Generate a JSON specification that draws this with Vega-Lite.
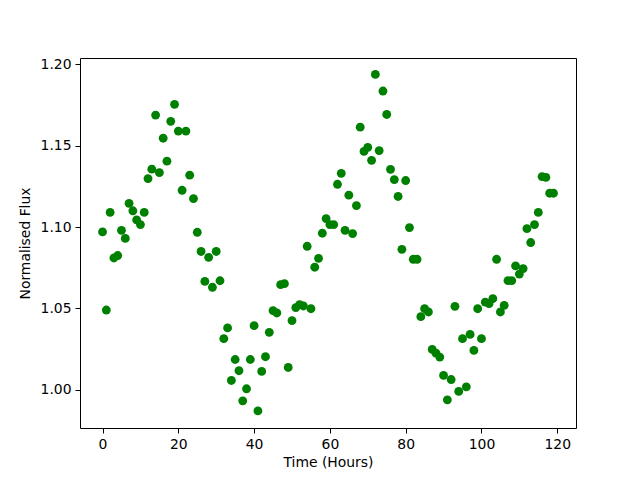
{
  "$schema": "https://vega.github.io/schema/vega-lite/v6.json",
  "width": 496,
  "height": 370,
  "autosize": {"type": "none"},
  "padding": {"left": 80, "top": 58, "right": 64, "bottom": 52},
  "background": "white",
  "config": {
    "view": {"stroke": "black", "strokeWidth": 1},
    "font": "DejaVu Sans",
    "axis": {
      "domain": false,
      "grid": false,
      "tickColor": "black",
      "tickSize": 5,
      "tickWidth": 1,
      "labelColor": "black",
      "labelFont": "DejaVu Sans",
      "labelFontSize": 13.9,
      "labelPadding": 4,
      "titleFont": "DejaVu Sans",
      "titleFontSize": 13.9,
      "titleFontWeight": "normal",
      "titleColor": "black"
    }
  },
  "data": {
    "values": [
      {"t": 0, "f": 1.097}, {"t": 1, "f": 1.049}, {"t": 2, "f": 1.109}, {"t": 3, "f": 1.081},
      {"t": 4, "f": 1.0825}, {"t": 5, "f": 1.098}, {"t": 6, "f": 1.093}, {"t": 7, "f": 1.1146},
      {"t": 8, "f": 1.110}, {"t": 9, "f": 1.1044}, {"t": 10, "f": 1.1015}, {"t": 11, "f": 1.109},
      {"t": 12, "f": 1.1298}, {"t": 13, "f": 1.1356}, {"t": 14, "f": 1.1688}, {"t": 15, "f": 1.1335},
      {"t": 16, "f": 1.1546}, {"t": 17, "f": 1.1405}, {"t": 18, "f": 1.165}, {"t": 19, "f": 1.1754},
      {"t": 20, "f": 1.159}, {"t": 21, "f": 1.1226}, {"t": 22, "f": 1.159}, {"t": 23, "f": 1.1319},
      {"t": 24, "f": 1.1175}, {"t": 25, "f": 1.0968}, {"t": 26, "f": 1.085}, {"t": 27, "f": 1.0666},
      {"t": 28, "f": 1.0814}, {"t": 29, "f": 1.063}, {"t": 30, "f": 1.085}, {"t": 31, "f": 1.067},
      {"t": 32, "f": 1.0314}, {"t": 33, "f": 1.038}, {"t": 34, "f": 1.0057}, {"t": 35, "f": 1.0186},
      {"t": 36, "f": 1.0117}, {"t": 37, "f": 0.9932}, {"t": 38, "f": 1.0006}, {"t": 39, "f": 1.0186},
      {"t": 40, "f": 1.0394}, {"t": 41, "f": 0.987}, {"t": 42, "f": 1.0113}, {"t": 43, "f": 1.0203},
      {"t": 44, "f": 1.0353}, {"t": 45, "f": 1.0486}, {"t": 46, "f": 1.0472}, {"t": 47, "f": 1.0646},
      {"t": 48, "f": 1.0652}, {"t": 49, "f": 1.0137}, {"t": 50, "f": 1.0425}, {"t": 51, "f": 1.0505},
      {"t": 52, "f": 1.0523}, {"t": 53, "f": 1.0515}, {"t": 54, "f": 1.0882}, {"t": 55, "f": 1.0498},
      {"t": 56, "f": 1.0753}, {"t": 57, "f": 1.0808}, {"t": 58, "f": 1.0962}, {"t": 59, "f": 1.1052},
      {"t": 60, "f": 1.1015}, {"t": 61, "f": 1.1015}, {"t": 62, "f": 1.1263}, {"t": 63, "f": 1.133},
      {"t": 64, "f": 1.098}, {"t": 65, "f": 1.1196}, {"t": 66, "f": 1.096}, {"t": 67, "f": 1.1132},
      {"t": 68, "f": 1.1614}, {"t": 69, "f": 1.1465}, {"t": 70, "f": 1.149}, {"t": 71, "f": 1.141},
      {"t": 72, "f": 1.1938}, {"t": 73, "f": 1.147}, {"t": 74, "f": 1.1836}, {"t": 75, "f": 1.1692},
      {"t": 76, "f": 1.1354}, {"t": 77, "f": 1.1292}, {"t": 78, "f": 1.1188}, {"t": 79, "f": 1.0863},
      {"t": 80, "f": 1.1286}, {"t": 81, "f": 1.0997}, {"t": 82, "f": 1.0802}, {"t": 83, "f": 1.0802},
      {"t": 84, "f": 1.0449}, {"t": 85, "f": 1.0498}, {"t": 86, "f": 1.0478}, {"t": 87, "f": 1.0248},
      {"t": 88, "f": 1.0225}, {"t": 89, "f": 1.0201}, {"t": 90, "f": 1.0088}, {"t": 91, "f": 0.9938},
      {"t": 92, "f": 1.0063}, {"t": 93, "f": 1.0513}, {"t": 94, "f": 0.999}, {"t": 95, "f": 1.0314},
      {"t": 96, "f": 1.0018}, {"t": 97, "f": 1.034}, {"t": 98, "f": 1.0242}, {"t": 99, "f": 1.0498},
      {"t": 100, "f": 1.0314}, {"t": 101, "f": 1.0539}, {"t": 102, "f": 1.0529}, {"t": 103, "f": 1.056},
      {"t": 104, "f": 1.0802}, {"t": 105, "f": 1.0478}, {"t": 106, "f": 1.0519}, {"t": 107, "f": 1.0671},
      {"t": 108, "f": 1.0671}, {"t": 109, "f": 1.0761}, {"t": 110, "f": 1.0711}, {"t": 111, "f": 1.0745},
      {"t": 112, "f": 1.099}, {"t": 113, "f": 1.0905}, {"t": 114, "f": 1.1015}, {"t": 115, "f": 1.109},
      {"t": 116, "f": 1.131}, {"t": 117, "f": 1.1305}, {"t": 118, "f": 1.1208}, {"t": 119, "f": 1.1208}
    ]
  },
  "mark": {"type": "point", "shape": "circle", "filled": true, "size": 78, "color": "#008000", "opacity": 1},
  "encoding": {
    "x": {
      "field": "t",
      "type": "quantitative",
      "title": "Time (Hours)",
      "scale": {"domain": [-5.95, 124.95], "nice": false, "zero": false},
      "axis": {"values": [0, 20, 40, 60, 80, 100, 120], "format": "d", "titlePadding": 5}
    },
    "y": {
      "field": "f",
      "type": "quantitative",
      "title": "Normalised Flux",
      "scale": {"domain": [0.9765, 1.2039], "nice": false, "zero": false},
      "axis": {"values": [1.0, 1.05, 1.1, 1.15, 1.2], "format": ".2f", "titlePadding": 8}
    }
  }
}
